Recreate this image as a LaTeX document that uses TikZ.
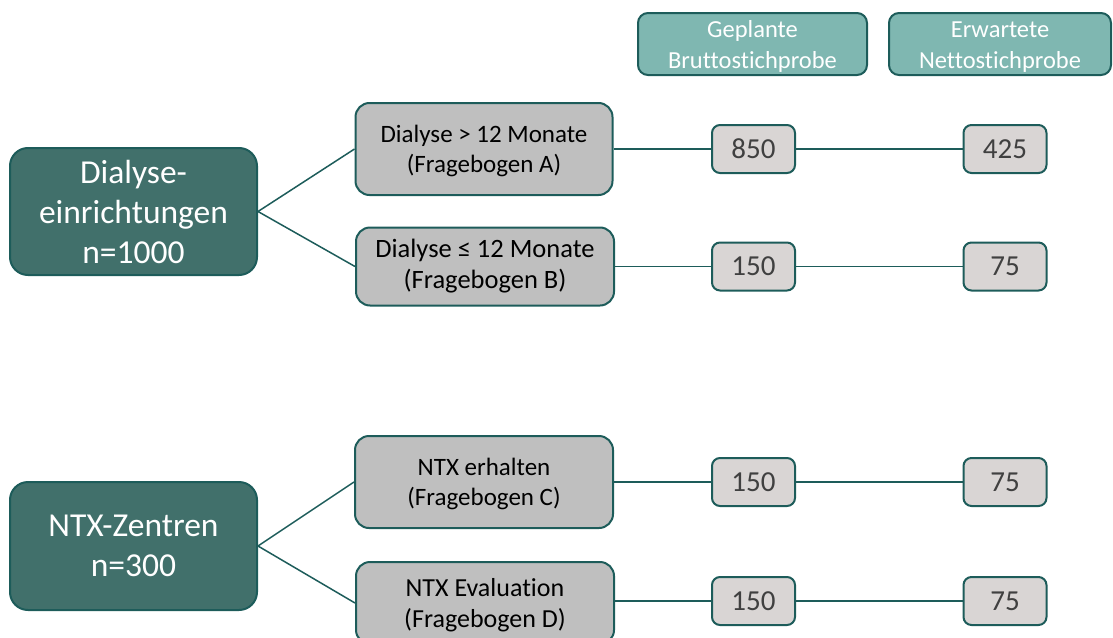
\documentclass[tikz,border=0pt]{standalone}
\usepackage{fontspec}
\setmainfont{Carlito}[Ligatures={NoCommon}]
\begin{document}
\definecolor{tealdark}{HTML}{41706B}
\definecolor{tealline}{HTML}{1D5C5A}
\definecolor{teallight}{HTML}{7FB7B1}
\definecolor{midgrey}{HTML}{BFBFBF}
\definecolor{numgrey}{HTML}{D9D5D4}
\definecolor{numtext}{HTML}{404040}
\begin{tikzpicture}[x=1pt,y=-1pt,
  base/.style={draw=tealline,line width=2pt,align=center,inner sep=0pt,anchor=center},
  groupbox/.style={base,fill=tealdark,text=white,rounded corners=18pt,
    minimum width=247pt,minimum height=127pt,
    font=\fontsize{33.5}{40}\selectfont},
  subbox/.style={base,fill=midgrey,text=black,rounded corners=14pt,
    minimum width=257pt,font=\fontsize{25}{30}\selectfont},
  numbox/.style={base,fill=numgrey,text=numtext,rounded corners=8pt,
    minimum width=83pt,minimum height=48pt,font=\fontsize{29}{34}\selectfont},
  headbox/.style={base,fill=teallight,text=white,rounded corners=10pt,
    minimum height=62pt,font=\fontsize{24.5}{31}\selectfont},
  link/.style={draw=tealline,line width=1.5pt}]
\useasboundingbox (0,0) rectangle (1113,637);

% column headers
\node[headbox,minimum width=229pt] (hgross) at (752.5,44) {\strut Geplante\\Bruttostichprobe};
\node[headbox,minimum width=222pt] (hnet) at (1000,44) {\strut Erwartete\\Nettostichprobe};

% groups
\node[groupbox] (dial) at (133.5,211.5) {Dialyse-\\einrichtungen\\n=1000};
\node[groupbox,minimum height=128pt] (ntx) at (133.5,546) {NTX-Zentren\\n=300};

% questionnaires
\node[subbox,minimum height=92pt] (qa) at (484,149) {\strut Dialyse > 12 Monate\\(Fragebogen A)};
\node[subbox,minimum height=78pt,minimum width=258pt,font=\fontsize{26.5}{31}\selectfont]
  (qb) at (485,266.5) {Dialyse ≤ 12 Monate\\(Fragebogen B)};
\node[subbox,minimum height=92pt,minimum width=258pt] (qc) at (484,482) {\strut NTX erhalten\\(Fragebogen C)};
\node[subbox,minimum height=82pt,minimum width=258pt,font=\fontsize{26}{31}\selectfont,
  text depth=4pt] (qd) at (485,603) {\strut NTX Evaluation\\(Fragebogen D)};

% sample sizes
\node[numbox] (ga) at (753.5,149) {850};
\node[numbox] (na) at (1005,149) {425};
\node[numbox] (gb) at (753.5,266.5) {150};
\node[numbox] (nb) at (1005,266.5) {75};
\node[numbox] (gc) at (753.5,482) {150};
\node[numbox] (nc) at (1005,482) {75};
\node[numbox] (gd) at (753.5,601) {150};
\node[numbox] (nd) at (1005,601) {75};

% connectors
\foreach \g/\q in {dial/qa,dial/qb,ntx/qc,ntx/qd}
  \draw[link] (\g.east) -- (\q.west);
\foreach \q/\a/\b in {qa/ga/na,qb/gb/nb,qc/gc/nc}{
  \draw[link] (\q.east) -- (\a.west);
  \draw[link] (\a.east) -- (\b.west);
}
\draw[link] (qd.east |- gd.west) -- (gd.west);
\draw[link] (gd.east) -- (nd.west);
\end{tikzpicture}
\end{document}
